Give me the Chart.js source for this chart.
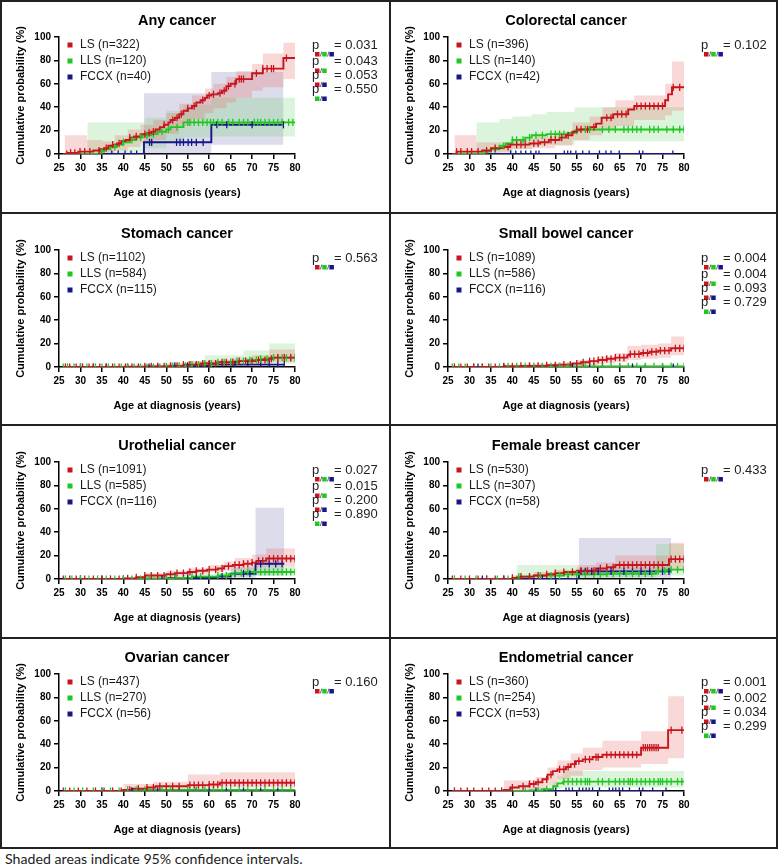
<!DOCTYPE html>
<html>
<head>
<meta charset="utf-8">
<script src="https://cdn.jsdelivr.net/npm/chart.js@4.4.0/dist/chart.umd.min.js"></script>
<style>
  body { margin: 0; background: #fff; }
  #page { position: relative; width: 778px; height: 866px; overflow: hidden; }
  #page canvas { position: absolute; }
  .ln { position: absolute; background: #222; z-index: 5; }
  #note { position: absolute; left: 5px; top: 850px; font: 14.2px Lato, "Open Sans", sans-serif; color: #222; white-space: nowrap; }
</style>
</head>
<body>
<div id="page">
  <div id="note">Shaded areas indicate 95% confidence intervals.</div>
</div>
<script>
// ---- panel text ----
const titles = ['Any cancer', 'Colorectal cancer', 'Stomach cancer', 'Small bowel cancer',
  'Urothelial cancer', 'Female breast cancer', 'Ovarian cancer', 'Endometrial cancer'];
const nLS = [322, 396, 1102, 1089, 1091, 530, 437, 360];
const nLLS = [120, 140, 584, 586, 585, 307, 270, 254];
const nFCCX = [40, 42, 115, 116, 116, 58, 56, 53];
const pValues = [
  ['0.031', '0.043', '0.053', '0.550'], ['0.102'], ['0.563'], ['0.004', '0.004', '0.093', '0.729'],
  ['0.027', '0.015', '0.200', '0.890'], ['0.433'], ['0.160'], ['0.001', '0.002', '0.034', '0.299']
];
const pGroups = [[0, 1, 2], [0, 1], [0, 2], [1, 2]];
const xTicks = [25, 30, 35, 40, 45, 50, 55, 60, 65, 70, 75, 80];

// ---- curves: [age, cumulative %] steps; CI: [age, lower, upper]; censored ages ----
// Any cancer
const anyLS = [[26,0],[27,1],[29.5,2],[33,3],[34.5,4],[35.5,5],[36.5,7],[37.5,8],[38.5,9],[39.5,11],[40.5,12],[41.5,14],[42.5,15],[44,17],[45.5,18],[46.5,19],[47.5,21],[48.5,23],[49.5,25],[50.5,27],[51,29],[52,31],[53,34],[54,37],[55,39],[56,41],[57,44],[58,46],[59,48],[59.5,50],[60.5,51],[62,52],[63,54],[64,58],[65,60],[66.3,64],[70,69],[72.5,73],[77.3,82],[80,82]];
const anyLSci = [[26.3,0,16],[31.5,0,12],[35,1,11],[38,3,16],[41,6,21],[44,9,25],[47,12,29],[50,17,35],[53,24,43],[56,30,50],[59,35,56],[61,39,60],[64,44,66],[66.3,48,71],[70,54,77],[72.5,57,86],[77.3,64,95],[80,64,95]];
const anyLScens = [26.8,27.7,28.7,29.9,31,32.2,34.3,36,37.5,39,41.5,43,45,46,47,49.5,51.5,52.5,53.5,55,56.5,58.5,60,61,62.5,63.5,64.5,66,67,67.5,68,71,72.5,73.5,74.5,75,78];
const anyLLS = [[26,0],[34.5,2],[35.5,4],[37,6],[38.5,8],[40,10],[41.5,12],[43,14],[44.5,16],[46.5,17],[48,19],[50,21],[51,23],[54,27],[80,27]];
const anyLLSci = [[31.6,0,27],[45,5,31],[50,10,37],[54,14,42],[60.5,15,48],[80,15,48]];
const anyLLScens = [35,38,40,42,44,45.5,47,49,50.5,52.5,55,55.5,56.5,57.5,58.5,59.5,60.3,61,62,63,64.5,65.5,67,68,69,70.5,71.3,72,73,74,75,76,77,78.5,79.5];
const anyFCCX = [[30,0],[44.8,10],[60.5,25],[77.3,25]];
const anyFCCXci = [[44.8,0,52],[60.5,8,70],[77.3,8,70]];
const anyFCCXcens = [37.3,38.8,40.4,41.8,43.1,46.1,46.6,52.4,53.2,54,55.1,55.9,57,58.6,61.8,64.1,70,77.3];

// Colorectal cancer
const colLS = [[26,0],[27,2],[33,3],[35,5],[38,6],[39.5,8],[44,9],[46.5,10],[48.5,12],[51,14],[52.5,16],[54,19],[55,21],[58,23],[59.5,26],[60.8,31],[63.5,34],[67,38],[68.4,41],[75.6,46],[76.3,51],[77.2,57],[80,57]];
const colLSci = [[26.5,0,16],[31.6,0,10],[35,1,10],[40,4,13],[45,5,15],[50,7,19],[54,12,27],[58,16,32],[61,21,40],[64,24,46],[68.4,29,50],[75.6,33,60],[77.2,37,79],[80,37,79]];
const colLScens = [27,28,29.5,30.5,32,34,36,39,41,42,43,45,46,47.5,49,50,51.5,53,55,56,57.5,59,62,63,64.5,65.5,66.5,69,70,71,72,73,74,75,77.5,79];
const colLLS = [[26,0],[33.5,2],[35,4],[37,7],[38.5,9],[40,12],[43,14],[44.5,16],[48,17],[53,18],[54.5,20],[56,21],[80,21]];
const colLLSci = [[31.6,0,27],[37,2,30],[40,4,32],[44.5,7,34],[48,8,36],[54.5,11,40],[80,11,40]];
const colLLScens = [36,38,40,41,42.5,44,45.5,47,49,50,51,52,55,57,58,61,62.5,64,66,67,68,69,70,72,73,74,76,77.5,79,80];
const colFCCX = [[26,0],[77.5,0]];
const colFCCXci = [];
const colFCCXcens = [39.6,40.8,42,43.1,44.3,45.5,46.2,52.1,52.9,53.6,54.8,56.4,57.9,60.3,61.8,63,64.9,69.6,70.4,77.4];

// Stomach cancer
const stoLS = [[26,0],[45,0.5],[51,1],[54,2],[58,3],[62,4],[67,5],[71,6],[74,7],[75,8],[80,8]];
const stoLSci = [[40,0,2],[50,0,3],[55,1,5],[60,2,6],[65,3,8],[70,3,10],[74,4,15],[80,4,15]];
const stoLScens = [26.5,27.5,29,30.5,32,33,34.5,36,37.5,39,40.5,42,43.5,45,46.5,48,49.5,51,52.5,54,55.5,57,58.5,60,61.5,63,64,65.5,67,68.5,70,71.5,73,74.5,76,77.5,79];
const stoLLS = [[26,0],[50,0.5],[53,1],[56,2],[59,3],[62,4],[66,5],[69,6],[72,7],[74,8],[80,8]];
const stoLLSci = [[40,0,2],[50,0,3],[55,1,5],[59,1,10],[68,2,14],[74,3,20],[80,3,20]];
const stoLLScens = [26,27,28.5,30,31.5,33.5,35,36.5,38,39.5,41,42.5,44,45.5,47,48.5,50,51.5,53,54.5,56,57.5,59,60.5,62,63.5,65,66.5,68,69.5,71,72,73.5,75,76,77,78,79,80];
const stoFCCX = [[26,0],[51,1],[60,2],[77.5,2]];
const stoFCCXci = [];
const stoFCCXcens = [30,33,36,41,46,48,52,55,57,60,63,66,69,72,74,76,77.5];

// Small bowel cancer
const sbLS = [[26,0],[38,0.5],[42,1],[48,1.5],[51,2],[54,3],[56,4],[58,5],[60,6],[62,7],[64,8],[66.8,10],[67.3,11],[70,12],[72,13],[74,14],[77,16],[80,16]];
const sbLSci = [[38,0,2],[45,0,3],[50,1,4],[55,1.5,6],[60,3,9],[64,4,12],[66.8,6,18],[70,7,19],[74,8,20],[77,10,26],[80,10,26]];
const sbLScens = [26.5,28,29.5,31,33,34.5,36,38,40,42,44,46,48,50,52,53.5,55,56.5,58,59,60,61,62,63,64,65,66,67.5,68.5,69.5,70.5,71.5,72.5,73.5,74.5,75.5,76.5,78,79,80];
const sbLLS = [[26,0],[38,0.5],[80,0.5]];
const sbLLSci = [[38,0,2],[80,0,3]];
const sbLLScens = [26,27.5,29,31,33,35,37,39,41,43,45,47,49,51,53,55,57,59,61,63,65,67,69,71,73,75,77,78.5,80];
const sbFCCX = [[26,0],[77.5,0]];
const sbFCCXci = [];
const sbFCCXcens = [32,38,44,47,50,54,58,61,65,68,71,75,77.5];

// Urothelial cancer
const uroLS = [[26,0],[40,0.5],[43,1.5],[45,3],[50,4],[52,5],[55,6],[57,7],[59.5,8],[62,9],[63.5,11],[65.5,12],[68,13],[70,14],[71,15.5],[73.3,17.5],[80,17.5]];
const uroLSci = [[40,0,2],[45,1,5],[50,2,7],[55,4,9],[60,6,12],[63.5,7,15],[66,8,18],[70,10,21],[73.3,11,26],[80,11,26]];
const uroLScens = [26,27.5,29,31,33,35,37,39,41,43,45,46.5,48,49.5,51,52.5,54,55.5,57,58.5,60,61.5,63,64.5,66,67,68,69,70,71.5,72.5,74,75,76,77,78,79,80];
const uroLLS = [[26,0],[45,0.5],[52,1],[56,2],[62,3],[64.5,4],[66,5],[68,6],[80,6]];
const uroLLSci = [[45,0,2],[55,0.5,4],[62,1,6],[66,2,9],[70,3,11],[80,3,11]];
const uroLLScens = [26.5,28,30,32,34,36,38,40,42,44,46,48,50,52,54,56,58,60,62,64,66,67.5,69,70.5,72,73,74,75,76,77,78,79,80];
const uroFCCX = [[26,0],[50.5,1],[62,2],[65,4.5],[70.8,13],[77.5,13]];
const uroFCCXci = [[65,1,10],[70.8,3,61],[77.5,3,61]];
const uroFCCXcens = [30,35,40,45,49,52,55,57,60,63,66,68,69.5,72,74,75.5,77];

// Female breast cancer
const fbLS = [[26,0],[40,1],[42,2],[45,3],[48,4],[50,5],[52,6],[55,7],[59.5,9],[62,10],[64,12],[76.5,17],[80,17]];
const fbLSci = [[40,0,3],[45,1,6],[50,2,8],[55,3,12],[59.5,5,14],[64,6,20],[76.5,8,31],[80,8,31]];
const fbLScens = [26,28,30,32,34,36,38,40,42,44,46,48,50,52,54,56,57.5,59,60.5,62,63.5,65,66,67,68,69,70,71,72,73,74,75,77,78,79,80];
const fbLLS = [[26,0],[41,2],[45,3],[52,4],[62,4.5],[73.5,7],[76,8],[80,8]];
const fbLLSci = [[41,0,12],[55,1,10],[64,1.5,10],[73.5,3,30],[80,3,30]];
const fbLLScens = [26.5,29,31.5,34,36.5,39,41.5,44,46.5,49,51,53,55,57,59,60.5,62,63.5,65,66.5,68,69.5,71,72.5,74,75.5,77,78.5,80];
const fbFCCX = [[26,0],[55.5,6.5],[77,6.5]];
const fbFCCXci = [[55.5,1,35],[77,1,35]];
const fbFCCXcens = [33,38,44,47,50,53,56,57,58.5,60,63,66,68,70,72,75,76.5];

// Ovarian cancer
const ovLS = [[26,0],[40,1],[42,2],[45.5,3],[47.5,4],[55,5],[60,5.5],[62.5,7],[80,7]];
const ovLSci = [[40,0,6],[47,1,8],[55,2,14],[62.5,3,16],[80,3,16]];
const ovLScens = [26,27.5,29.5,31.5,33.5,35.5,37.5,39.5,41.5,43.5,45.5,47,48.5,50,51.5,53,55.5,56.5,57.5,58.5,60,61,62,63,64,65,66,67,68,69,70,71,72,73,74,75,76,77,78,79,80];
const ovLLS = [[26,0],[40,1],[80,1]];
const ovLLSci = [];
const ovLLScens = [26.5,28.5,30.5,33,35,37,39,41,43,45,47,49,51,53,55,57,59,61,63,65,67,69,71,73,75,77,79];
const ovFCCX = [[26,0],[77,0]];
const ovFCCXci = [];
const ovFCCXcens = [35,42,48,53,57,60,64,68,72,76];

// Endometrial cancer
const endLS = [[26,0],[38,1],[39.5,3],[41.5,4],[44,6],[45.5,7.5],[47,10],[48.2,14],[49.4,17],[50.5,18.5],[52.5,20.5],[53.6,23],[54.8,25.5],[56.4,27],[58.7,29],[61,31],[70,37],[76.3,52],[80,52]];
const endLSci = [[38,0,9],[45.5,1,12],[48.2,4,20],[50.5,10,26],[53.6,13,32],[56.4,18,37],[61,20,43],[70,23,51],[76.3,28,81],[80,28,81]];
const endLScens = [26.5,28,29.5,31,33,34.5,36,37.5,40,42.5,44,45,46,48,49,51,52,53,54.5,55.5,57,58,59.5,60,62,63,64,65,66,67,68,69,70.5,71,71.5,72,72.5,73,73.5,74,77,79.5];
const endLLS = [[26,0],[44,0.5],[47,1.5],[49.5,4],[50.5,6.5],[51.8,8],[80,8]];
const endLLSci = [[44,0,3],[49.5,1,8],[50.5,2,13],[51.8,3,17],[80,3,17]];
const endLLScens = [40,43,46,48,52,53,54,55,56,57,57.5,58,60,61,62.5,64,65,66,67,67.5,68,69,70,71,72,73,74,74.5,75,76,77,78.5,79.5];
const endFCCX = [[26,0],[76,0]];
const endFCCXci = [];
const endFCCXcens = [40,45.5,50.1,52.5,53.2,54,55.6,56.4,57.2,57.9,58.7,60.3,62.6,63.4,64.1,64.9,65.7,67.3,69.6,70.4,72.7,75.8];

const panels = [
  [[anyLS, anyLSci, anyLScens], [anyLLS, anyLLSci, anyLLScens], [anyFCCX, anyFCCXci, anyFCCXcens]],
  [[colLS, colLSci, colLScens], [colLLS, colLLSci, colLLScens], [colFCCX, colFCCXci, colFCCXcens]],
  [[stoLS, stoLSci, stoLScens], [stoLLS, stoLLSci, stoLLScens], [stoFCCX, stoFCCXci, stoFCCXcens]],
  [[sbLS, sbLSci, sbLScens], [sbLLS, sbLLSci, sbLLScens], [sbFCCX, sbFCCXci, sbFCCXcens]],
  [[uroLS, uroLSci, uroLScens], [uroLLS, uroLLSci, uroLLScens], [uroFCCX, uroFCCXci, uroFCCXcens]],
  [[fbLS, fbLSci, fbLScens], [fbLLS, fbLLSci, fbLLScens], [fbFCCX, fbFCCXci, fbFCCXcens]],
  [[ovLS, ovLSci, ovLScens], [ovLLS, ovLLSci, ovLLScens], [ovFCCX, ovFCCXci, ovFCCXcens]],
  [[endLS, endLSci, endLScens], [endLLS, endLLSci, endLLScens], [endFCCX, endFCCXci, endFCCXcens]]
];

const COLORS = ['#c8141c', '#1ec81e', '#16168a'];
const BANDS = ['rgba(232,105,105,0.26)', 'rgba(95,205,95,0.22)', 'rgba(60,60,140,0.18)'];
const FONT = '"Liberation Sans", Arial, sans-serif';
Chart.defaults.font.family = FONT;
Chart.defaults.color = '#000';

function valueAt(steps, t) {
  let v = 0;
  steps.forEach(s => { if (s[0] <= t) v = s[1]; });
  return v;
}

const deco = {
  id: 'deco',
  afterDraw(chart, args, opts) {
    const ctx = chart.ctx;
    const area = chart.chartArea;
    ctx.save();
    ctx.fillStyle = '#000';
    ctx.textBaseline = 'middle';
    ctx.textAlign = 'center';
    ctx.font = 'bold 14.5px ' + FONT;
    ctx.fillText(opts.title, (area.left + area.right) / 2, 20.5);

    // legend
    ctx.textAlign = 'left';
    ctx.font = '12px ' + FONT;
    opts.labels.forEach((lab, i) => {
      const y = 45 + i * 16;
      ctx.fillStyle = COLORS[i];
      ctx.fillRect(67.5, y - 2.5, 5, 5);
      ctx.fillStyle = '#1a1a1a';
      ctx.fillText(lab, 80, y);
    });

    // p values
    const rowsY = [45, 61.5, 75.5, 89.5];
    opts.pvals.forEach((pv, i) => {
      const y = rowsY[i];
      ctx.font = '13px ' + FONT;
      ctx.fillStyle = '#222';
      ctx.fillText('p', 312, y);
      ctx.fillText('= ' + pv, 334, y);
      const grp = pGroups[i];
      let x = 315;
      grp.forEach((g, k) => {
        if (k > 0) {
          ctx.strokeStyle = '#444';
          ctx.lineWidth = 0.8;
          ctx.beginPath();
          ctx.moveTo(x + 0.3, y + 11.5);
          ctx.lineTo(x + 1.8, y + 6.5);
          ctx.stroke();
          x += 2.2;
        }
        ctx.fillStyle = COLORS[g];
        ctx.fillRect(x, y + 7, 4.5, 4.5);
        x += 5;
      });
    });
    ctx.restore();
  }
};

const page = document.getElementById('page');
const rowTops = [0, 213, 425, 637];

panels.forEach((groups, p) => {
  const canvas = document.createElement('canvas');
  canvas.width = 389;
  canvas.height = 212;
  canvas.style.left = (p % 2) * 389 + 'px';
  canvas.style.top = rowTops[Math.floor(p / 2)] + 'px';
  page.appendChild(canvas);

  const datasets = [];
  // confidence bands (drawn first)
  groups.forEach((g, i) => {
    const ci = g[1];
    if (!ci.length) return;
    datasets.push({
      data: ci.map(c => ({ x: c[0], y: c[2] })),
      stepped: true, borderWidth: 0, borderColor: 'transparent', pointRadius: 0,
      fill: '+1', backgroundColor: BANDS[i], order: 3
    });
    datasets.push({
      data: ci.map(c => ({ x: c[0], y: c[1] })),
      stepped: true, borderWidth: 0, borderColor: 'transparent', pointRadius: 0,
      fill: false, order: 3
    });
  });
  // step curves
  groups.forEach((g, i) => {
    datasets.push({
      data: g[0].map(s => ({ x: s[0], y: s[1] })),
      stepped: true, borderColor: COLORS[i], borderWidth: 1.9, pointRadius: 0,
      fill: false, order: 1 + i * 0.1
    });
  });
  // censor marks
  groups.forEach((g, i) => {
    datasets.push({
      data: g[2].map(t => ({ x: t, y: valueAt(g[0], t) })),
      showLine: false, pointStyle: 'line', pointRotation: 90, pointRadius: 3.6,
      pointBorderWidth: 1.3, borderColor: COLORS[i], pointBorderColor: COLORS[i],
      fill: false, order: 0.5 + i * 0.1
    });
  });

  new Chart(canvas, {
    type: 'line',
    data: { datasets },
    plugins: [deco],
    options: {
      responsive: false,
      animation: false,
      devicePixelRatio: 1,
      events: [],
      layout: { padding: { left: 0, top: 37, right: 94, bottom: 0 } },
      plugins: {
        legend: { display: false },
        tooltip: { enabled: false },
        deco: {
          title: titles[p],
          labels: ['LS (n=' + nLS[p] + ')', 'LLS (n=' + nLLS[p] + ')', 'FCCX (n=' + nFCCX[p] + ')'],
          pvals: pValues[p]
        }
      },
      scales: {
        x: {
          type: 'linear', min: 25, max: 80,
          afterFit: s => { s.height = 58; },
          afterBuildTicks: s => { s.ticks = xTicks.map(v => ({ value: v })); },
          ticks: { font: { size: 10, weight: 'bold' }, color: '#000', padding: 3, maxRotation: 0, autoSkip: false },
          grid: { drawOnChartArea: false, drawTicks: true, tickLength: 5, color: '#000', lineWidth: 1.5 },
          border: { color: '#000', width: 1.5 },
          title: { display: true, text: 'Age at diagnosis (years)', font: { size: 11, weight: 'bold' }, color: '#000', padding: { top: 0, bottom: 12.4 } }
        },
        y: {
          min: 0, max: 100,
          afterFit: s => { s.width = 59; },
          ticks: { stepSize: 20, font: { size: 10, weight: 'bold' }, color: '#000', padding: 3 },
          grid: { drawOnChartArea: false, drawTicks: true, tickLength: 5, color: '#000', lineWidth: 1.5 },
          border: { color: '#000', width: 1.5 },
          title: { display: true, text: 'Cumulative probability (%)', font: { size: 11, weight: 'bold' }, color: '#000', padding: { top: 14.4, bottom: 0 } }
        }
      }
    }
  });
});

// panel frame lines
[[0, 0, 778, 2], [0, 211.5, 778, 2], [0, 424, 778, 2], [0, 636.5, 778, 2], [0, 847, 778, 2],
 [0, 0, 2, 849], [389, 0, 2, 849], [776, 0, 2, 849]].forEach(r => {
  const d = document.createElement('div');
  d.className = 'ln';
  d.style.left = r[0] + 'px'; d.style.top = r[1] + 'px';
  d.style.width = r[2] + 'px'; d.style.height = r[3] + 'px';
  page.appendChild(d);
});
</script>
</body>
</html>
